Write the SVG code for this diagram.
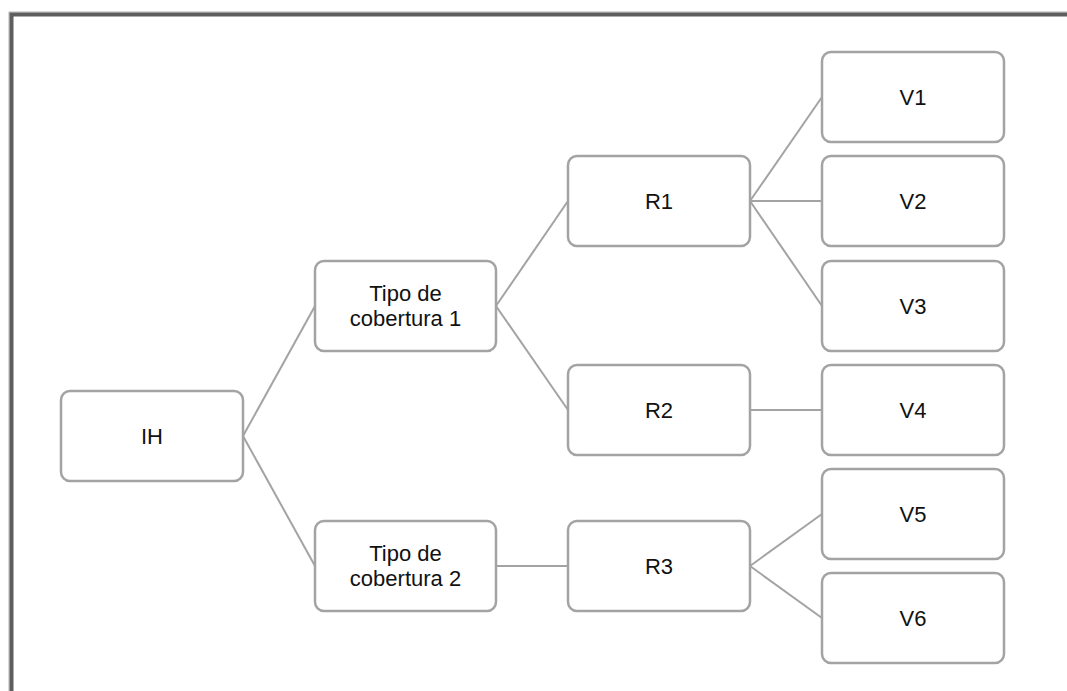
<svg xmlns="http://www.w3.org/2000/svg" width="1067" height="691" viewBox="0 0 1067 691">
  <style>
    .box { fill: #ffffff; stroke: #a3a3a3; stroke-width: 2.5; }
    .link { fill: none; stroke: #a3a3a3; stroke-width: 2; }
    .lbl { font-family: "Liberation Sans", Arial, sans-serif; font-size: 22px; fill: #111111; text-anchor: middle; }
  </style>
  <rect width="1067" height="691" fill="#ffffff"/>
  <!-- outer frame -->
  <path d="M9,691 V12 H1067" fill="none" stroke="#b0b0b0" stroke-width="1"/>
  <path d="M11.5,691 V14.5 H1067" fill="none" stroke="#5e5e5e" stroke-width="4"/>

  <g id="connectors">
    <line class="link" x1="243" y1="436" x2="315" y2="306"/>
    <line class="link" x1="243" y1="436" x2="315" y2="566"/>
    <line class="link" x1="496" y1="306" x2="568" y2="201"/>
    <line class="link" x1="496" y1="306" x2="568" y2="410"/>
    <line class="link" x1="496" y1="566" x2="568" y2="566"/>
    <line class="link" x1="750" y1="201" x2="822" y2="97"/>
    <line class="link" x1="750" y1="201" x2="822" y2="201"/>
    <line class="link" x1="750" y1="201" x2="822" y2="306"/>
    <line class="link" x1="750" y1="410" x2="822" y2="410"/>
    <line class="link" x1="750" y1="566" x2="822" y2="514"/>
    <line class="link" x1="750" y1="566" x2="822" y2="618"/>
  </g>

  <g id="ih">
    <rect class="box" x="61" y="391" width="182" height="90" rx="9"/>
    <text class="lbl" x="152" y="444">IH</text>
  </g>
  <g id="tipo1">
    <rect class="box" x="315" y="261" width="181" height="90" rx="9"/>
    <text class="lbl" x="405.5" y="301">Tipo de</text>
    <text class="lbl" x="405.5" y="326">cobertura 1</text>
  </g>
  <g id="tipo2">
    <rect class="box" x="315" y="521" width="181" height="90" rx="9"/>
    <text class="lbl" x="405.5" y="561">Tipo de</text>
    <text class="lbl" x="405.5" y="586">cobertura 2</text>
  </g>
  <g id="r1">
    <rect class="box" x="568" y="156" width="182" height="90" rx="9"/>
    <text class="lbl" x="659" y="209">R1</text>
  </g>
  <g id="r2">
    <rect class="box" x="568" y="365" width="182" height="90" rx="9"/>
    <text class="lbl" x="659" y="418">R2</text>
  </g>
  <g id="r3">
    <rect class="box" x="568" y="521" width="182" height="90" rx="9"/>
    <text class="lbl" x="659" y="574">R3</text>
  </g>
  <g id="v1">
    <rect class="box" x="822" y="52" width="182" height="90" rx="9"/>
    <text class="lbl" x="913" y="105">V1</text>
  </g>
  <g id="v2">
    <rect class="box" x="822" y="156" width="182" height="90" rx="9"/>
    <text class="lbl" x="913" y="209">V2</text>
  </g>
  <g id="v3">
    <rect class="box" x="822" y="261" width="182" height="90" rx="9"/>
    <text class="lbl" x="913" y="314">V3</text>
  </g>
  <g id="v4">
    <rect class="box" x="822" y="365" width="182" height="90" rx="9"/>
    <text class="lbl" x="913" y="418">V4</text>
  </g>
  <g id="v5">
    <rect class="box" x="822" y="469" width="182" height="90" rx="9"/>
    <text class="lbl" x="913" y="522">V5</text>
  </g>
  <g id="v6">
    <rect class="box" x="822" y="573" width="182" height="90" rx="9"/>
    <text class="lbl" x="913" y="626">V6</text>
  </g>
</svg>
